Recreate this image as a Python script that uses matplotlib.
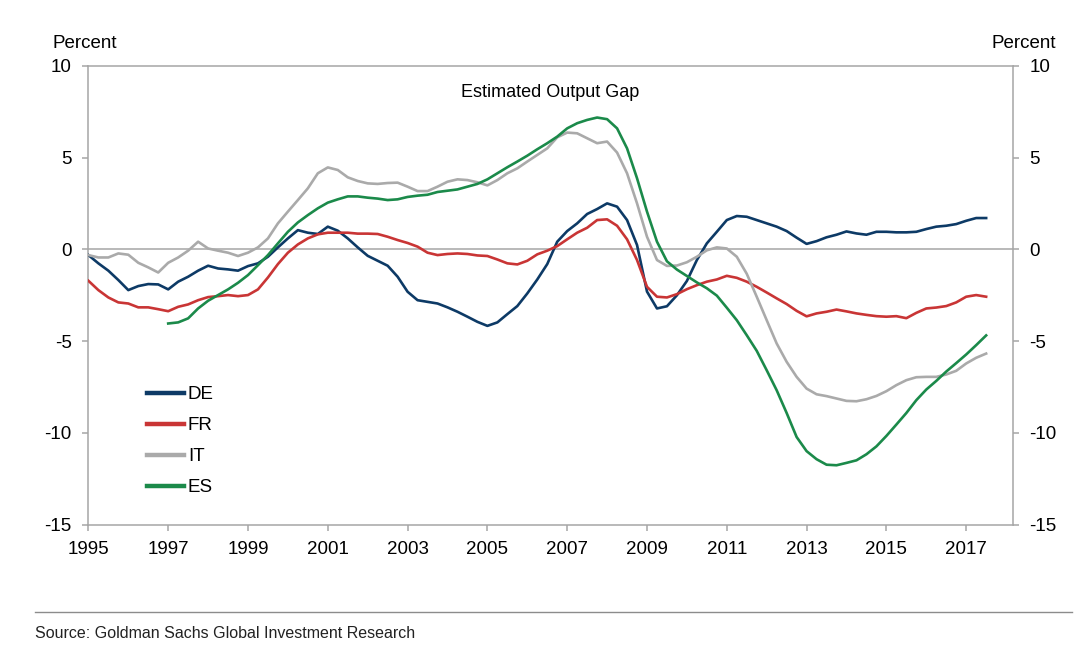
import numpy as np
import pandas as pd
import matplotlib
matplotlib.use("Agg")
import matplotlib.pyplot as plt

plt.rcParams['font.family'] = ['Liberation Sans', 'DejaVu Sans']

# Quarterly periods 1995Q1 .. 2017Q3
periods = pd.period_range('1995Q1', '2017Q3', freq='Q')

DE = [-0.31, -0.76, -1.16, -1.67,
      -2.22, -2.00, -1.89, -1.91,
      -2.18, -1.76, -1.49, -1.16,
      -0.89, -1.04, -1.09, -1.16,
      -0.91, -0.76, -0.40, 0.11,
      0.60, 1.05, 0.91, 0.84,
      1.24, 1.02, 0.60, 0.11,
      -0.35, -0.62, -0.89, -1.49,
      -2.31, -2.77, -2.86, -2.95,
      -3.16, -3.40, -3.67, -3.95,
      -4.17, -3.98, -3.53, -3.09,
      -2.40, -1.64, -0.80, 0.42,
      1.00, 1.42, 1.93, 2.20,
      2.51, 2.33, 1.60, 0.24,
      -2.30, -3.22, -3.10, -2.50,
      -1.72, -0.58, 0.33, 0.96,
      1.60, 1.82, 1.78, 1.60,
      1.42, 1.24, 1.00, 0.64,
      0.30, 0.45, 0.66, 0.80,
      0.98, 0.87, 0.80, 0.96,
      0.96, 0.93, 0.93, 0.96,
      1.11, 1.24, 1.29, 1.38,
      1.56, 1.71, 1.71]

FR = [-1.71, -2.22, -2.62, -2.89,
      -2.95, -3.16, -3.16, -3.26,
      -3.37, -3.13, -3.00, -2.77,
      -2.60, -2.55, -2.49, -2.55,
      -2.49, -2.18, -1.53, -0.80,
      -0.18, 0.27, 0.60, 0.82,
      0.91, 0.91, 0.91, 0.86,
      0.86, 0.84, 0.69, 0.51,
      0.35, 0.15, -0.18, -0.31,
      -0.25, -0.22, -0.25, -0.33,
      -0.36, -0.55, -0.76, -0.82,
      -0.62, -0.27, -0.07, 0.18,
      0.55, 0.91, 1.18, 1.60,
      1.64, 1.29, 0.55, -0.58,
      -2.04, -2.58, -2.62, -2.44,
      -2.17, -1.95, -1.76, -1.64,
      -1.44, -1.55, -1.76, -2.04,
      -2.35, -2.67, -2.98, -3.35,
      -3.65, -3.49, -3.40, -3.28,
      -3.38, -3.49, -3.57, -3.64,
      -3.67, -3.64, -3.75, -3.46,
      -3.22, -3.17, -3.09, -2.89,
      -2.58, -2.49, -2.58]

IT = [-0.31, -0.44, -0.44, -0.22,
      -0.29, -0.73, -0.98, -1.26,
      -0.73, -0.44, -0.07, 0.42,
      0.05, -0.07, -0.18, -0.36,
      -0.18, 0.11, 0.60, 1.42,
      2.06, 2.69, 3.33, 4.15,
      4.47, 4.33, 3.93, 3.73,
      3.60, 3.57, 3.62, 3.64,
      3.42, 3.18, 3.18, 3.42,
      3.69, 3.82, 3.78, 3.66,
      3.49, 3.78, 4.15, 4.42,
      4.79, 5.15, 5.51, 6.11,
      6.37, 6.33, 6.06, 5.79,
      5.88, 5.28, 4.15, 2.51,
      0.69, -0.58, -0.90, -0.88,
      -0.70, -0.40, -0.05, 0.11,
      0.05, -0.40, -1.33, -2.58,
      -3.86, -5.13, -6.13, -6.95,
      -7.59, -7.90, -8.00, -8.13,
      -8.26, -8.28, -8.17, -7.99,
      -7.73, -7.40, -7.13, -6.97,
      -6.95, -6.95, -6.82, -6.62,
      -6.22, -5.91, -5.68]

# Spain series starts in 1997Q1
ES = [np.nan] * 8 + [
      -4.04, -3.98, -3.76, -3.22,
      -2.80, -2.49, -2.18, -1.82,
      -1.40, -0.86, -0.31, 0.33,
      0.96, 1.47, 1.87, 2.24,
      2.55, 2.73, 2.89, 2.89,
      2.82, 2.77, 2.69, 2.73,
      2.86, 2.93, 2.98, 3.13,
      3.20, 3.27, 3.42, 3.57,
      3.82, 4.15, 4.48, 4.79,
      5.11, 5.46, 5.79, 6.15,
      6.60, 6.88, 7.06, 7.19,
      7.10, 6.60, 5.51, 3.88,
      2.06, 0.42, -0.65, -1.10,
      -1.45, -1.80, -2.12, -2.52,
      -3.18, -3.86, -4.68, -5.53,
      -6.59, -7.68, -8.92, -10.23,
      -11.00, -11.44, -11.74, -11.77,
      -11.64, -11.50, -11.17, -10.74,
      -10.17, -9.55, -8.92, -8.22,
      -7.64, -7.17, -6.66, -6.20,
      -5.73, -5.22, -4.69]

series_names = ['DE', 'FR', 'IT', 'ES']
series_values = [DE, FR, IT, ES]
series_colors = ['#0d3a66', '#c93535', '#aaaaaa', '#1b8a4a']

year_ticks = list(range(1995, 2018, 2))
y_ticks = [10, 5, 0, -5, -10, -15]

x = np.asarray(periods.year + (periods.quarter - 1) / 4.0, dtype=float)

W, H = 1088, 660
fig = plt.figure(figsize=(W / 100, H / 100), dpi=100)
L, R, T, B = 88.4, 1012.6, 66, 524.5
ax = fig.add_axes([L / W, 1 - B / H, (R - L) / W, (B - T) / H])

for name, vals, col in zip(series_names, series_values, series_colors):
    ax.plot(x, np.asarray(vals, dtype=float), color=col, lw=1.9, label=name,
            solid_joinstyle='round', zorder=3)

ax.axhline(0, color='#a6a6a6', lw=1.1, zorder=1)

ax.set_xlim(1995, 1995 + (R - L) / 39.9)
ax.set_ylim(-15, 10)
ax.set_xticks(year_ticks)
ax.set_xticklabels([str(y) for y in year_ticks])
ax.set_yticks(y_ticks)
ax.set_yticklabels([str(v) for v in y_ticks])

for s in ax.spines.values():
    s.set_color('#a6a6a6')
    s.set_linewidth(1.1)

ax.tick_params(axis='x', direction='out', length=4, width=1.1, color='#a6a6a6',
               labelsize=13.5, pad=8)
ax.tick_params(axis='y', direction='out', length=4, width=1.1, color='#a6a6a6',
               labelsize=13.5, pad=8, right=True, labelright=True)

ax.text(0.5, 0.932, 'Estimated Output Gap', transform=ax.transAxes,
        ha='center', va='baseline', fontsize=13)

leg = ax.legend(loc='upper left', bbox_to_anchor=(0.063, 0.302), frameon=False,
                fontsize=13.5, handlelength=2.0, handletextpad=0.2,
                labelspacing=0.74, borderpad=0, borderaxespad=0)
for ln in leg.get_lines():
    ln.set_linewidth(3.2)

fig.text(85 / W, 1 - 48 / H, 'Percent', ha='center', va='baseline', fontsize=13.5)
fig.text(1024 / W, 1 - 48 / H, 'Percent', ha='center', va='baseline', fontsize=13.5)

fig.add_artist(plt.Line2D([35 / W, 1072 / W], [1 - 612 / H, 1 - 612 / H],
                          color='#8c8c8c', lw=1.0))
fig.text(35 / W, 1 - 638 / H, 'Source: Goldman Sachs Global Investment Research',
         ha='left', va='baseline', fontsize=11.5, fontstretch='condensed',
         family=['Liberation Sans Narrow', 'Liberation Sans', 'DejaVu Sans'],
         color='#222222')

fig.savefig('out.png', dpi=100)
